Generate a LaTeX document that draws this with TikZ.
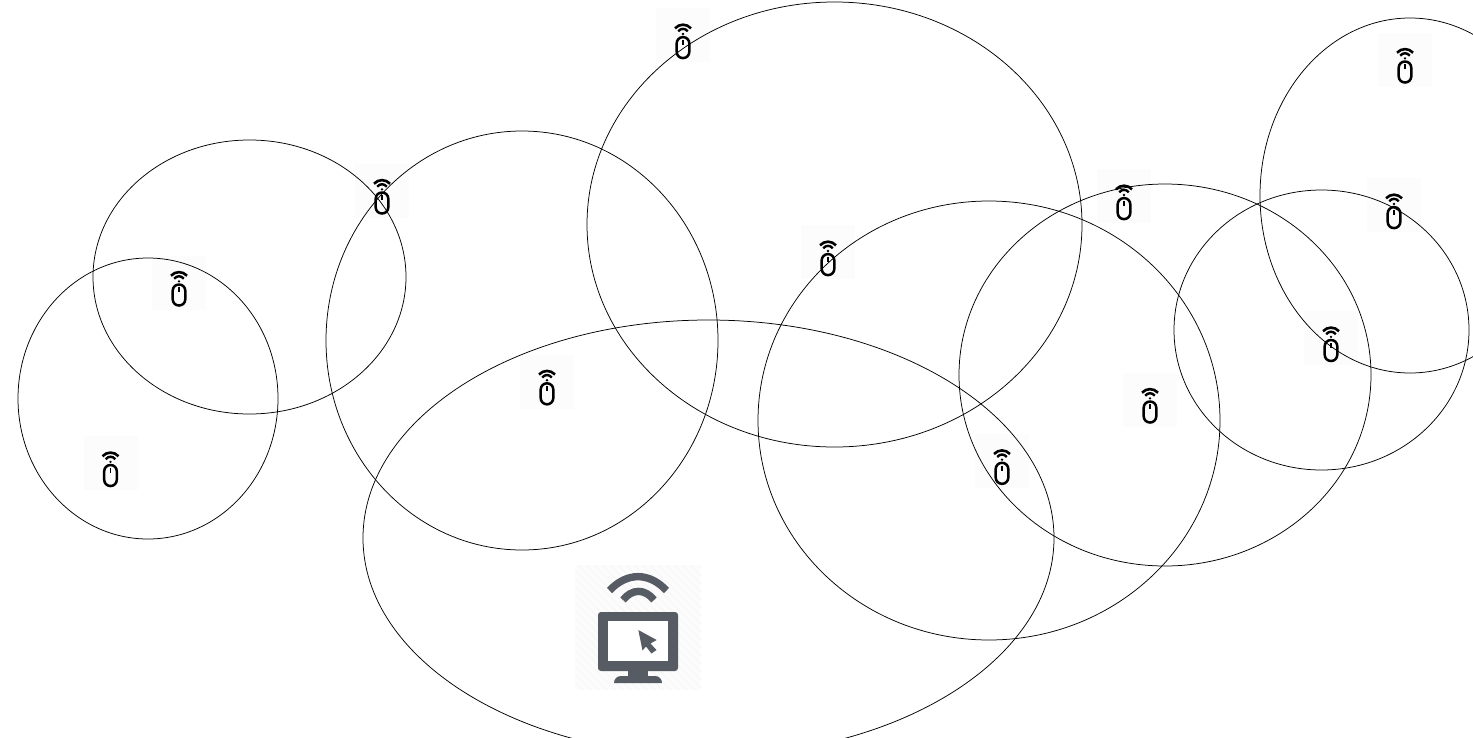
\documentclass[tikz,border=0pt]{standalone}
\definecolor{icongrey}{HTML}{575C64}
\definecolor{iconbg}{HTML}{FCFCFC}
\definecolor{iconhatch}{HTML}{F6F6F6}
\tikzset{
  x=1pt,y=-1pt,
  rangeline/.style={draw=black,line width=0.75pt},
  bigwave/.style={draw=icongrey,line width=7.4pt},
  mouseicon/.pic={
    \fill[iconbg] (-27,-33) rectangle (27,21);
    \draw[black,line width=2.6pt] (-8,-13) .. controls (-3.5,-17.8) and (3.5,-17.8) .. (8,-13);
    \draw[black,line width=2.4pt] (-4.8,-10) .. controls (-2,-13.3) and (2,-13.3) .. (4.8,-10);
    \fill[black] (0,-7.3) circle (1.3);
    \draw[black,line width=2.5pt,rounded corners=6.2pt] (-6.3,-4.2) rectangle (6.3,16.8);
    \draw[black,line width=1.6pt] (0,-1.4) -- (0,3.6);
  }
}
\begin{document}
\begin{tikzpicture}
\useasboundingbox (0,0) rectangle (1473,737);
\clip (0,0) rectangle (1473,737);
\fill[white] (0,0) rectangle (1473,737);
% mouse icons
\pic at (110.5,469.2) {mouseicon};
\pic at (179,288.7) {mouseicon};
\pic at (382,196.7) {mouseicon};
\pic at (547,387.5) {mouseicon};
\pic at (683,41.3) {mouseicon};
\pic at (828,258.3) {mouseicon};
\pic at (1002,467) {mouseicon};
\pic at (1124,202.3) {mouseicon};
\pic at (1150,405.7) {mouseicon};
\pic at (1331,344.2) {mouseicon};
\pic at (1394,211.3) {mouseicon};
\pic at (1405,65.7) {mouseicon};
% monitor icon
\begin{scope}
\clip (575,565) rectangle (701,690);
\fill[iconbg] (575,565) rectangle (701,690);
\foreach \s in {0,8,...,256}
  \draw[iconhatch,line width=0.8pt] (575+\s,690) -- (575+\s-130,560);
\end{scope}
\draw[bigwave] (609.5,590.5) .. controls (627,572) and (649,572) .. (666.5,590.5);
\draw[bigwave] (623,600) .. controls (632,588.5) and (645,588.5) .. (654,600);
\fill[icongrey,rounded corners=3pt] (598,612) rectangle (678,671);
\fill[white] (608,621) rectangle (668,661);
\fill[icongrey] (628,670) rectangle (648,677);
\fill[icongrey] (614,683) .. controls (614,679) and (617,676) .. (621,676) -- (655,676) .. controls (659,676) and (662,679) .. (662,683) -- cycle;
\fill[icongrey] (638.3,630) -- (656.7,640) -- (650.5,643.5) -- (656.5,650) -- (651.5,653.5) -- (646,646.5) -- (642.5,650.5) -- cycle;
% ranges
\draw[rangeline] (148,398.5) ellipse [x radius=130,y radius=140.5];
\draw[rangeline] (249.5,277) ellipse [x radius=156.5,y radius=137];
\draw[rangeline] (522,340.5) ellipse [x radius=196,y radius=209.5];
\draw[rangeline] (708.5,538) ellipse [x radius=345.5,y radius=218];
\draw[rangeline] (834.5,224.5) ellipse [x radius=247.5,y radius=222.5];
\draw[rangeline] (989,420.5) ellipse [x radius=231,y radius=219.5];
\draw[rangeline] (1165,375) ellipse [x radius=206,y radius=191];
\draw[rangeline] (1321.5,330) ellipse [x radius=147.5,y radius=140];
\draw[rangeline] (1410,195.5) ellipse [x radius=150,y radius=177.5];
\end{tikzpicture}
\end{document}
